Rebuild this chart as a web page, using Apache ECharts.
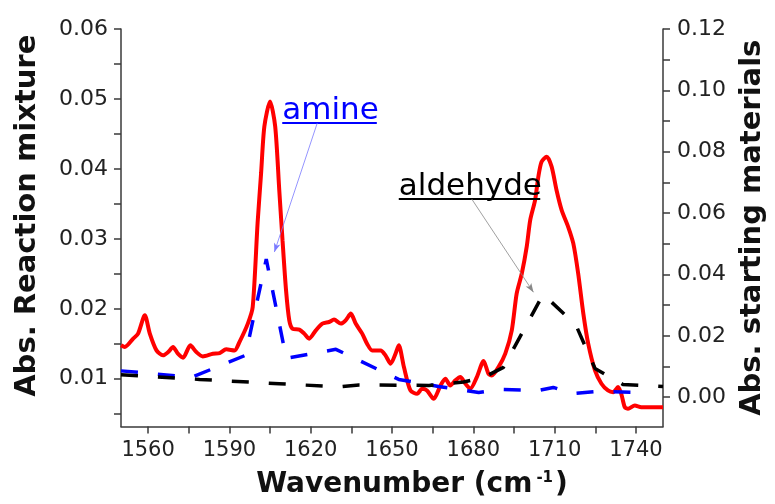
<!DOCTYPE html>
<html>
<head>
<meta charset="utf-8">
<script src="https://cdn.jsdelivr.net/npm/echarts@6/dist/echarts.min.js"></script>
<style>
html,body{margin:0;padding:0;background:#fff;}
#chart{width:775px;height:504px;}
</style>
</head>
<body>
<div id="chart"></div>
<script>
// Reaction mixture (left axis)
const wavenumberReaction = [1550.0,1551.4,1554.5,1556.3,1558.8,1560.6,1563.1,1565.5,1567.4,1569.2,1571.0,1572.9,1575.6,1577.8,1580.2,1583.9,1586.4,1588.8,1591.9,1593.7,1596.8,1598.6,1600.4,1601.7,1602.9,1605.0,1606.9,1608.4,1609.6,1610.9,1612.1,1613.3,1615.8,1617.6,1619.4,1621.9,1624.3,1626.8,1628.6,1631.1,1632.9,1634.8,1636.6,1639.0,1640.8,1642.7,1645.8,1647.6,1649.5,1651.3,1652.5,1654.4,1656.8,1659.3,1661.1,1662.9,1665.4,1667.9,1669.7,1671.5,1673.4,1675.2,1677.1,1678.9,1681.3,1683.8,1685.6,1686.8,1689.3,1691.8,1694.2,1696.0,1697.9,1699.7,1701.0,1702.8,1704.0,1705.2,1707.1,1708.9,1710.7,1712.6,1715.0,1716.9,1718.7,1720.6,1722.4,1724.9,1727.3,1729.7,1731.6,1733.4,1734.6,1735.9,1737.1,1739.6,1742.0,1745.7,1750.0];
const absReaction = [0.01477,0.01453,0.01573,0.01645,0.01907,0.01649,0.01405,0.01334,0.01381,0.01453,0.01358,0.01301,0.01477,0.01381,0.01319,0.01358,0.01367,0.01420,0.01405,0.01524,0.01788,0.02026,0.03225,0.03941,0.04605,0.04963,0.04605,0.03698,0.02981,0.02265,0.01835,0.01716,0.01702,0.01645,0.01573,0.01692,0.01788,0.01811,0.01845,0.01788,0.01835,0.01931,0.01788,0.01645,0.01500,0.01405,0.01405,0.01334,0.01215,0.01358,0.01477,0.01166,0.00832,0.00785,0.00857,0.00832,0.00713,0.00904,0.01000,0.00904,0.00976,0.01023,0.00928,0.00857,0.01023,0.01252,0.01072,0.01047,0.01166,0.01358,0.01692,0.02218,0.02504,0.02885,0.03268,0.03554,0.03888,0.04103,0.04175,0.04032,0.03698,0.03411,0.03172,0.02934,0.02504,0.01931,0.01501,0.01119,0.00928,0.00832,0.00808,0.00880,0.00785,0.00593,0.00570,0.00617,0.00593,0.00593,0.00593];

// Amine (right axis)
const wavenumberAmine = [1550.0,1560.6,1576.0,1595.9,1603.6,1611.0,1629.3,1652.5,1667.2,1682.0,1689.3,1704.0,1709.5,1716.8,1726.0,1743.3];
const absAmine = [0.00856,0.00774,0.00643,0.01362,0.04497,0.01264,0.01558,0.00578,0.00349,0.00153,0.00251,0.00219,0.00317,0.00121,0.00186,0.00153];

// Aldehyde (right axis)
const wavenumberAldehyde = [1550.0,1579.0,1608.4,1630.5,1637.8,1663.6,1676.4,1683.8,1691.1,1705.8,1717.9,1724.9,1735.2,1750.0];
const absAldehyde = [0.00732,0.00578,0.00438,0.00333,0.00398,0.00382,0.00496,0.00643,0.00970,0.03354,0.02342,0.00937,0.00415,0.00349];

// Axis ticks and labels
const xLabelValues = [1560,1590,1620,1650,1680,1710,1740];
const xTickValues = [1560,1575,1590,1605,1620,1635,1650,1665,1680,1695,1710,1725,1740];
const leftLabelValues = [0.01,0.02,0.03,0.04,0.05,0.06];
const leftTickValues = [0.005,0.01,0.015,0.02,0.025,0.03,0.035,0.04,0.045,0.05,0.055,0.06];
const rightLabelValues = [0,0.02,0.04,0.06,0.08,0.10,0.12];
const rightTickValues = [0,0.01,0.02,0.03,0.04,0.05,0.06,0.07,0.08,0.09,0.10,0.11,0.12];

// Annotations (data space, right axis)
const amineLabel = {text:'amine', underline:[[1609.5,0.0893],[1644.4,0.0893]], leader:[[1622.4,0.0893],[1606.6,0.0473]]};
const aldehydeLabel = {text:'aldehyde', underline:[[1652.5,0.0646],[1704.7,0.0646]], leader:[[1679.4,0.0646],[1702.2,0.0342]]};

const zip = (a,b) => a.map((v,i)=>[v,b[i]]);
const FONT = 'DejaVu Sans';
const AXC = '#3a3a3a';

function annotation(a, color, leaderColor){
  return {
    markLine: {
      silent: true, animation: false,
      label: {show: false},
      emphasis: {disabled: true},
      data: [
        [{coord: a.underline[0], symbol: 'none', lineStyle:{color: color, width: 2, type: 'solid'}},
         {coord: a.underline[1], symbol: 'none'}],
        [{coord: a.leader[0], symbol: 'none', lineStyle:{color: leaderColor, width: 0.8, type: 'solid'}},
         {coord: a.leader[1], symbol: 'arrow', symbolSize: [5,9]}]
      ]
    },
    markPoint: {
      silent: true, animation: false,
      symbol: 'circle', symbolSize: 0,
      data: [{coord: a.underline[0], label: {
        show: true, formatter: a.text, position: [0,0], align: 'left', verticalAlign: 'bottom',
        offset: [0, 3], color: color, fontFamily: FONT, fontSize: 31
      }}]
    }
  };
}

const chart = echarts.init(document.getElementById('chart'), null, {renderer: 'canvas'});
chart.setOption({
  animation: false,
  backgroundColor: '#ffffff',
  textStyle: {fontFamily: FONT},
  grid: {left: 121, right: 110, top: 29, bottom: 77.5},
  xAxis: {
    type: 'value', min: 1550, max: 1750,
    name: 'Wavenumber (cm{sup|-1})', nameLocation: 'middle', nameGap: 44,
    nameTextStyle: {fontFamily: FONT, fontSize: 28, fontWeight: 'bold', color: '#111', padding: [0,0,0,40],
      rich: {sup: {fontFamily: FONT, fontSize: 15, fontWeight: 'bold', color: '#111', verticalAlign: 'top', padding: [0,2,0,4]}}},
    axisLine: {show: true, onZero: false, lineStyle: {color: AXC, width: 1.5}},
    axisTick: {show: true, inside: false, length: 7, customValues: xTickValues, lineStyle: {color: AXC, width: 1.5}},
    axisLabel: {customValues: xLabelValues, margin: 14, fontSize: 21, color: '#222', fontFamily: FONT,
      formatter: v => String(v)},
    splitLine: {show: false}
  },
  yAxis: [
    {
      type: 'value', position: 'left', min: 0.00317, max: 0.06,
      name: 'Abs. Reaction mixture', nameLocation: 'middle', nameGap: 79,
      nameTextStyle: {fontFamily: FONT, fontSize: 29, fontWeight: 'bold', color: '#111', padding: [0,0,0,24]},
      axisLine: {show: true, onZero: false, lineStyle: {color: AXC, width: 1.5}},
      axisTick: {show: true, inside: false, length: 7, customValues: leftTickValues, lineStyle: {color: AXC, width: 1.5}},
      axisLabel: {customValues: leftLabelValues, margin: 13, fontSize: 22, color: '#222', fontFamily: FONT,
        formatter: v => v.toFixed(2)},
      splitLine: {show: false}
    },
    {
      type: 'value', position: 'right', min: -0.00957, max: 0.12,
      name: 'Abs. starting materials', nameLocation: 'middle', nameGap: 75,
      nameTextStyle: {fontFamily: FONT, fontSize: 29, fontWeight: 'bold', color: '#111'},
      axisLine: {show: true, onZero: false, lineStyle: {color: AXC, width: 1.5}},
      axisTick: {show: true, inside: false, length: 7, customValues: rightTickValues, lineStyle: {color: AXC, width: 1.5}},
      axisLabel: {customValues: rightLabelValues, margin: 14, fontSize: 22, color: '#222', fontFamily: FONT,
        formatter: v => v.toFixed(2)},
      splitLine: {show: false}
    }
  ],
  series: [
    {
      name: 'Reaction mixture', type: 'line', yAxisIndex: 0,
      data: zip(wavenumberReaction, absReaction),
      showSymbol: false, smooth: 0.25,
      lineStyle: {color: '#ff0000', width: 4}
    },
    Object.assign({
      name: 'amine', type: 'line', yAxisIndex: 1,
      data: zip(wavenumberAmine, absAmine),
      showSymbol: false, smooth: false,
      lineStyle: {color: '#0000ff', width: 3.5, type: [17, 20]}
    }, annotation(amineLabel, '#0000ff', '#7a7aff')),
    Object.assign({
      name: 'aldehyde', type: 'line', yAxisIndex: 1,
      data: zip(wavenumberAldehyde, absAldehyde),
      showSymbol: false, smooth: false,
      lineStyle: {color: '#000000', width: 3.5, type: [17, 20]}
    }, annotation(aldehydeLabel, '#000000', '#888888'))
  ]
});
</script>
</body>
</html>
